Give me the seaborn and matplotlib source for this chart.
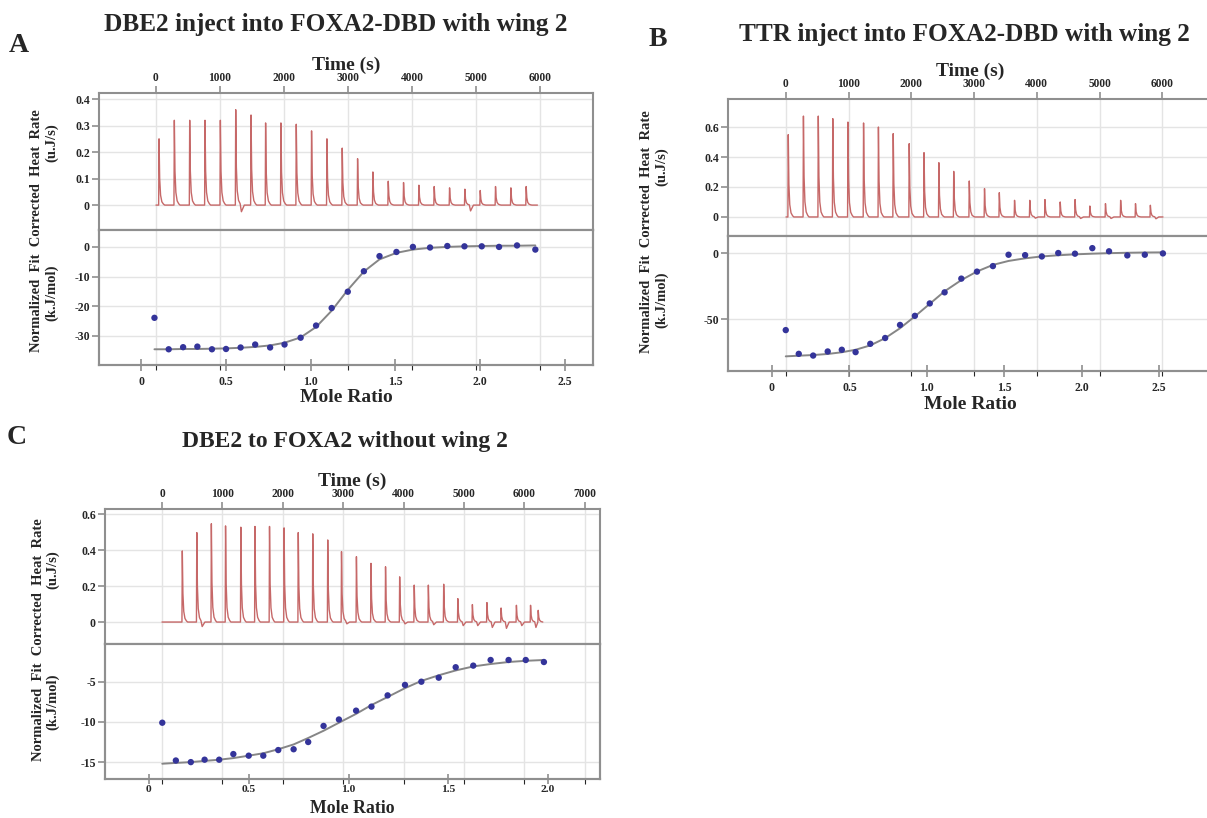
import matplotlib
matplotlib.use("Agg")
import matplotlib.pyplot as plt
import matplotlib.patheffects as pe
from matplotlib import font_manager
from matplotlib.text import Text
import seaborn as sns
import pandas as pd

# ---------------- data ----------------
# Panel A: DBE2 inject into FOXA2-DBD with wing 2
a_inj_time = [42, 281, 521, 760, 1000, 1240, 1479, 1707, 1946, 2186, 2425, 2665, 2904,
              3144, 3383, 3623, 3862, 4102, 4341, 4581, 4820, 5060, 5299, 5539, 5778]
a_peak = [0.25, 0.32, 0.32, 0.32, 0.32, 0.36, 0.34, 0.31, 0.31, 0.305, 0.28, 0.25, 0.215,
          0.175, 0.125, 0.09, 0.085, 0.075, 0.07, 0.065, 0.06, 0.055, 0.07, 0.065, 0.07]
a_dip = [0, 0, 0, 0, 0, -0.025, 0, 0, 0, 0, 0, 0, 0,
         0, 0, 0, 0, 0, 0, 0, -0.022, 0, 0, 0, 0]
a_end = 5960
a_ratio = [0.079, 0.163, 0.248, 0.332, 0.418, 0.501, 0.587, 0.673, 0.761, 0.846, 0.941, 1.032,
           1.124, 1.219, 1.314, 1.406, 1.506, 1.603, 1.704, 1.806, 1.907, 2.009, 2.111, 2.217, 2.325]
a_heat = [-23.9, -34.5, -33.8, -33.6, -34.5, -34.4, -33.9, -32.9, -33.9, -32.9, -30.6, -26.5,
          -20.6, -15.1, -8.2, -3.1, -1.7, 0.0, -0.2, 0.3, 0.2, 0.2, 0.0, 0.5, -0.9]
a_fit = [-34.5, -34.5, -34.4, -34.4, -34.3, -34.2, -34.0, -33.7, -33.2, -32.3, -30.5, -27.0,
         -21.5, -14.5, -8.3, -4.2, -2.0, -0.9, -0.3, 0.0, 0.2, 0.3, 0.4, 0.4, 0.5]

# Panel B: TTR inject into FOXA2-DBD with wing 2
b_inj_time = [30, 272, 509, 740, 982, 1231, 1468, 1704, 1959, 2195, 2432, 2669, 2917,
              3160, 3396, 3639, 3882, 4124, 4367, 4604, 4840, 5089, 5331, 5568, 5805]
b_peak = [0.549, 0.673, 0.673, 0.656, 0.633, 0.627, 0.600, 0.556, 0.489, 0.429, 0.362, 0.304,
          0.240, 0.189, 0.162, 0.111, 0.111, 0.116, 0.100, 0.116, 0.073, 0.089, 0.111, 0.089, 0.078]
b_dip = [0, 0, 0, 0, 0, 0, 0, 0, 0, 0, 0, 0, 0,
         0, 0, 0, -0.008, 0, 0, -0.01, 0, -0.01, 0, 0, -0.012]
b_end = 6012
b_ratio = [0.089, 0.173, 0.266, 0.36, 0.451, 0.54, 0.635, 0.731, 0.827, 0.923, 1.019, 1.115,
           1.223, 1.324, 1.427, 1.528, 1.635, 1.743, 1.849, 1.957, 2.069, 2.177, 2.295, 2.408, 2.525]
b_heat = [-58.4, -76.4, -77.7, -74.6, -73.3, -75.1, -68.8, -64.4, -54.5, -47.6, -38.2, -29.8,
          -19.4, -14.1, -9.9, -1.3, -1.6, -2.6, 0.0, -0.5, 3.7, 1.3, -1.8, -1.3, -0.3]
b_fit = [-78.3, -77.8, -77.3, -76.5, -75.2, -73.3, -70.0, -64.5, -57.0, -48.0, -38.5, -29.0,
         -20.5, -14.0, -9.0, -6.0, -4.0, -2.6, -1.7, -1.0, -0.5, -0.1, 0.2, 0.4, 0.5]

# Panel C: DBE2 to FOXA2 without wing 2
c_inj_time = [330, 570, 811, 1046, 1299, 1533, 1774, 2015, 2250, 2490, 2738, 2966, 3213,
              3454, 3695, 3929, 4170, 4404, 4658, 4892, 5133, 5374, 5608, 5862, 6096, 6223]
c_peak = [0.395, 0.497, 0.546, 0.534, 0.527, 0.531, 0.531, 0.523, 0.497, 0.49, 0.456, 0.391,
          0.363, 0.326, 0.307, 0.251, 0.205, 0.205, 0.21, 0.13, 0.097, 0.108, 0.078, 0.093,
          0.093, 0.065]
c_dip = [0, -0.025, 0, 0, 0, 0, 0, 0, 0, 0, 0, -0.01, 0,
         0, 0, -0.01, 0, -0.015, 0, -0.02, -0.02, -0.03, -0.035, -0.02, -0.03, 0]
c_end = 6305
c_ratio = [0.067, 0.135, 0.21, 0.279, 0.352, 0.423, 0.5, 0.573, 0.648, 0.725, 0.798, 0.875,
           0.952, 1.038, 1.115, 1.196, 1.283, 1.365, 1.452, 1.537, 1.625, 1.712, 1.802, 1.888, 1.979]
c_heat = [-10.1, -14.8, -15.0, -14.7, -14.7, -14.0, -14.2, -14.2, -13.5, -13.4, -12.5, -10.5,
          -9.7, -8.6, -8.1, -6.7, -5.4, -5.0, -4.5, -3.2, -3.0, -2.3, -2.3, -2.3, -2.55]
c_fit = [-15.2, -15.1, -15.0, -14.85, -14.7, -14.5, -14.2, -13.9, -13.4, -12.8, -12.0, -11.1,
         -10.1, -9.0, -7.9, -6.9, -5.8, -4.9, -4.2, -3.6, -3.1, -2.8, -2.55, -2.4, -2.3]

time_ticks_6 = [0, 1000, 2000, 3000, 4000, 5000, 6000]
time_ticks_7 = [0, 1000, 2000, 3000, 4000, 5000, 6000, 7000]
ratio_ticks_25 = [0, 0.5, 1.0, 1.5, 2.0, 2.5]
ratio_labels_25 = ["0", "0.5", "1.0", "1.5", "2.0", "2.5"]
ratio_ticks_20 = [0, 0.5, 1.0, 1.5, 2.0]
ratio_labels_20 = ["0", "0.5", "1.0", "1.5", "2.0"]

# ---------------- style ----------------
W, H = 1207, 818
sns.set_style("white")
plt.rcParams['font.family'] = ['Liberation Serif', 'DejaVu Serif']
plt.rcParams['font.weight'] = 'bold'

SPINE = '#8f8f8f'
GRID = '#e4e4e4'
TRACE = '#c66868'
DOT = '#34349a'
FIT = '#868686'

# shape of one injection spike (offset in s, fraction of peak height)
SPIKE_OFF = [0, 6, 16, 30, 50, 75]
SPIKE_FRAC = [0, 1, 0.4, 0.15, 0.05, 0.015]


def thermogram(times, peaks, dips, t_end):
    xs, ys = [0], [0]
    nexts = times[1:] + [t_end]
    for t, h, d, nxt in zip(times, peaks, dips, nexts):
        px = [t + o for o in SPIKE_OFF] + [t + 95, t + 140]
        py = [h * f for f in SPIKE_FRAC] + [d, 0]
        for x, y in zip(px, py):
            if x < nxt:
                xs.append(x)
                ys.append(y)
    xs.append(t_end)
    ys.append(0)
    return pd.DataFrame({'time': xs, 'rate': ys})


def rect(left, right, top, bottom):
    return [left / W, 1 - bottom / H, (right - left) / W, (bottom - top) / H]


def style_spines(ax):
    for s in ax.spines.values():
        s.set_color(SPINE)
        s.set_linewidth(1.5)


def panel(box, tlim, rlim, ylim_top, ylim_bot, tticks, yt_top, yt_top_lab, yt_bot,
          rticks, rlabels, inj, peak, dip, t_end, ratio, heat, fit,
          mr_y=None, mr_size=14, mr_len=9, mr_pad=3.5, mr_tick_size=8.5):
    left, right, top, div, bottom = box
    ax_t = fig.add_axes(rect(left, right, top, div))
    ax_b = fig.add_axes(rect(left, right, div, bottom))

    # thermogram
    df = thermogram(inj, peak, dip, t_end)
    sns.lineplot(data=df, x='time', y='rate', ax=ax_t, color=TRACE, lw=1.0,
                 sort=False, estimator=None)
    ax_t.set_xlim(tlim)
    ax_t.set_ylim(ylim_top)
    ax_t.set_xticks(tticks)
    ax_t.set_xticklabels([str(t) for t in tticks])
    ax_t.set_yticks(yt_top)
    ax_t.set_yticklabels(yt_top_lab)
    ax_t.xaxis.tick_top()
    ax_t.xaxis.set_label_position('top')
    ax_t.set_xlabel('Time (s)', fontsize=14, fontweight='bold')
    ax_t.xaxis.set_label_coords(0.5, 1 + 28 / (div - top))
    ax_t.xaxis.label.set_va('center')
    ax_t.set_ylabel('')
    ax_t.tick_params(axis='x', which='both', top=True, bottom=False, direction='out',
                     length=5, width=1.2, color=SPINE, labelsize=8.3, pad=1.2)
    ax_t.tick_params(axis='y', left=True, direction='out', length=5, width=1.2,
                     color=SPINE, labelsize=8.5, pad=1.5)
    ax_t.grid(True, color=GRID, lw=1)
    style_spines(ax_t)

    # isotherm: time grid underneath, mole ratio on a twin axis
    ax_b.set_xlim(tlim)
    ax_b.set_xticks(tticks)
    ax_b.set_ylim(ylim_bot)
    ax_b.set_yticks(yt_bot)
    ax_b.set_yticklabels([str(v) for v in yt_bot])
    ax_b.tick_params(axis='x', bottom=False, top=False, labelbottom=False)
    ax_b.tick_params(axis='y', left=True, direction='out', length=5, width=1.2,
                     color=SPINE, labelsize=8.5, pad=1.5)
    ax_b.grid(True, color=GRID, lw=1)
    style_spines(ax_b)

    ax_r = ax_b.twiny()
    iso = pd.DataFrame({'ratio': ratio, 'heat': heat, 'fit': fit})
    sns.lineplot(data=iso, x='ratio', y='fit', ax=ax_r, color=FIT, lw=1.4)
    sns.scatterplot(data=iso, x='ratio', y='heat', ax=ax_r, color=DOT, s=21,
                    edgecolor='none', zorder=3)
    ax_r.set_xlim(rlim)
    ax_r.set_ylim(ylim_bot)
    ax_r.set_xticks(rticks)
    ax_r.set_xticklabels(rlabels)
    ax_r.xaxis.set_ticks_position('bottom')
    ax_r.xaxis.set_label_position('bottom')
    ax_r.tick_params(axis='x', direction='inout', length=mr_len, width=1.2, color=SPINE,
                     labelsize=mr_tick_size, pad=mr_pad)
    ax_r.set_xlabel('Mole Ratio', fontsize=mr_size, fontweight='bold')
    if mr_y is None:
        ax_r.xaxis.set_label_coords(0.5, -33 / (bottom - div))
        ax_r.xaxis.label.set_va('center')
    else:
        # bottom edge of the label placed at pixel row mr_y
        ax_r.xaxis.set_label_coords(0.5, -(mr_y - bottom) / (bottom - div))
        ax_r.xaxis.label.set_va('bottom')
    ax_r.set_ylabel('')
    style_spines(ax_r)
    return ax_t, ax_b, ax_r


def ftext(x, y, s, **kw):
    fig.text(x / W, 1 - y / H, s, ha='center', va='center', fontweight='bold', **kw)


fig = plt.figure(figsize=(W / 100, H / 100), dpi=100)

# A
panel((99, 593, 93, 230, 365), (-890, 6828), (-0.248, 2.665), (-0.094, 0.423), (-39.8, 5.7),
      time_ticks_6, [0, 0.1, 0.2, 0.3, 0.4], ["0", "0.1", "0.2", "0.3", "0.4"], [-30, -20, -10, 0],
      ratio_ticks_25, ratio_labels_25, a_inj_time, a_peak, a_dip, a_end, a_ratio, a_heat, a_fit)
# B
panel((728, 1212, 99, 236, 371), (-925, 6794), (-0.284, 2.842), (-0.127, 0.787), (-89.4, 12.9),
      time_ticks_6, [0, 0.2, 0.4, 0.6], ["0", "0.2", "0.4", "0.6"], [-50, 0],
      ratio_ticks_25, ratio_labels_25, b_inj_time, b_peak, b_dip, b_end, b_ratio, b_heat, b_fit)
# C (label sits right at the bottom edge of the figure)
panel((105, 600, 509, 644, 779), (-944, 7252), (-0.22, 2.26), (-0.122, 0.628), (-17.1, -0.31),
      time_ticks_7, [0, 0.2, 0.4, 0.6], ["0", "0.2", "0.4", "0.6"], [-15, -10, -5],
      ratio_ticks_20, ratio_labels_20, c_inj_time, c_peak, c_dip, c_end, c_ratio, c_heat, c_fit,
      mr_y=817, mr_size=12.8, mr_len=7, mr_pad=0.8, mr_tick_size=8.2)

# panel letters and titles
ftext(19, 46, 'A', fontsize=20)
ftext(336, 24, 'DBE2 inject into FOXA2-DBD with wing 2', fontsize=18.2)
ftext(658, 40, 'B', fontsize=20)
ftext(964, 35, 'TTR inject into FOXA2-DBD with wing 2', fontsize=18.2)
ftext(17, 438, 'C', fontsize=20)
ftext(345, 442, 'DBE2 to FOXA2 without wing 2', fontsize=17)

# y labels (shared two-line style)
ylab = 'Normalized  Fit  Corrected  Heat  Rate'
for x1, x2, yc, yu, yk in [(37, 52, 231, 143, 293), (647, 662, 232, 167, 300),
                           (39, 53, 640, 570, 702)]:
    ftext(x1, yc, ylab, fontsize=10.5, rotation=90)
    ftext(x2, yu, '(u.J/s)', fontsize=10.5, rotation=90)
    ftext(x2, yk, '(k.J/mol)', fontsize=10.5, rotation=90)

# if no bold face of the serif font is installed, thicken the strokes instead
bold_file = font_manager.findfont(font_manager.FontProperties(family='Liberation Serif',
                                                              weight='bold'))
if 'bold' not in bold_file.lower():
    for t in fig.findobj(Text):
        t.set_path_effects([pe.withStroke(linewidth=0.7, foreground=t.get_color())])

fig.savefig('out.png', dpi=100)
